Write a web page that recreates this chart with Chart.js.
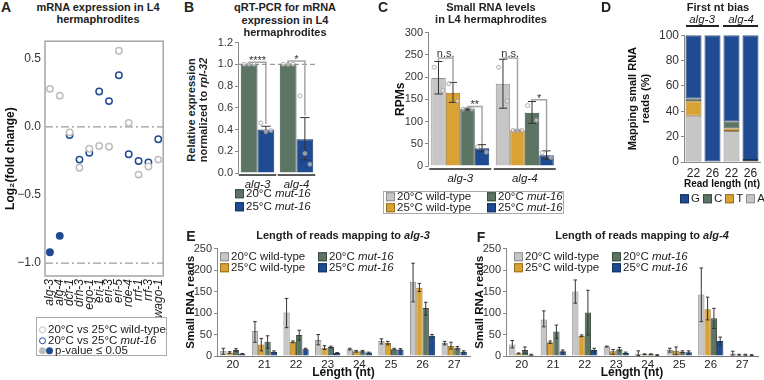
<!DOCTYPE html>
<html><head><meta charset="utf-8">
<script src="https://cdn.jsdelivr.net/npm/chart.js@4"></script>
<style>
body{margin:0;width:764px;height:380px;position:relative;background:#fff;font-family:"Liberation Sans",Arial,sans-serif;color:#222;overflow:hidden}
canvas{position:absolute;z-index:0}
.t{position:absolute;z-index:2;white-space:nowrap;transform:translate(-50%,-50%);font-size:11px;line-height:1}
.l{position:absolute;z-index:2;white-space:nowrap;font-size:11.5px;line-height:1;transform:translateY(-50%)}
.b{font-weight:bold}
.let{font-size:14px;font-weight:bold}
.sq{display:inline-block;width:9px;height:9px;border:1px solid;box-sizing:border-box;vertical-align:-1px;margin-right:2px}
.g1{background:#c6c6c6;border-color:#8e8e8e}.o1{background:#d9a235;border-color:#9a6f1c}
.gr{background:#5c7464;border-color:#3a4b40}.bl{background:#1f4b93;border-color:#13305e}
.box{position:absolute;z-index:1;border:1.5px solid #aaa;box-sizing:border-box}
.dot{display:inline-block;width:7px;height:7px;border-radius:50%;box-sizing:border-box;margin-right:2px;vertical-align:0}
.ul{position:absolute;height:1.5px;background:#222}
</style></head><body>

<div class="t let" style="left:6px;top:7px">A</div>
<div class="t b" style="left:98px;top:7px">mRNA expression in L4</div>
<div class="t b" style="left:98px;top:19px">hermaphrodites</div>
<div class="box" style="left:36px;top:317px;width:131px;height:39px"></div>
<div class="l" style="left:39px;top:330px"><span class="dot" style="border:1.5px solid #bdbdbd"></span>20°C vs 25°C wild-type</div>
<div class="l" style="left:39px;top:341px"><span class="dot" style="border:1.5px solid #1f4b93"></span>20°C vs 25°C <i>mut-16</i></div>
<div class="l" style="left:39px;top:351px"><span class="dot" style="background:#bdbdbd;margin-right:0"></span><span class="dot" style="background:#1f4b93"></span>p-value ≤ 0.05</div>

<div class="t let" style="left:189px;top:7px">B</div>
<div class="t b" style="left:285px;top:7px">qRT-PCR for mRNA</div>
<div class="t b" style="left:285px;top:20px">expression in L4</div>
<div class="t b" style="left:285px;top:32px">hermaphrodites</div>
<div class="t b" style="left:191px;top:110px;transform:translate(-50%,-50%) rotate(-90deg)">Relative expression</div>
<div class="t b" style="left:203px;top:110px;transform:translate(-50%,-50%) rotate(-90deg)">normalized to <i>rpl-32</i></div>
<div class="l" style="left:235px;top:194px"><span class="sq gr"></span>20°C <i>mut-16</i></div>
<div class="l" style="left:235px;top:207px"><span class="sq bl"></span>25°C <i>mut-16</i></div>

<div class="t let" style="left:383px;top:7px">C</div>
<div class="t b" style="left:491px;top:7px">Small RNA levels</div>
<div class="t b" style="left:491px;top:19px">in L4 hermaphrodites</div>
<div class="box" style="left:383px;top:191px;width:181px;height:23px"></div>
<div class="l" style="left:386px;top:197px"><span class="sq g1"></span>20°C wild-type</div>
<div class="l" style="left:386px;top:208px"><span class="sq o1"></span>25°C wild-type</div>
<div class="l" style="left:487px;top:197px"><span class="sq gr"></span>20°C <i>mut-16</i></div>
<div class="l" style="left:487px;top:208px"><span class="sq bl"></span>25°C <i>mut-16</i></div>

<div class="t let" style="left:606px;top:7px">D</div>
<div class="t b" style="left:718px;top:7px">First nt bias</div>
<div class="t" style="left:702px;top:20px;font-size:11.5px"><i>alg-3</i></div>
<div class="t" style="left:741px;top:20px;font-size:11.5px"><i>alg-4</i></div>
<div class="ul" style="left:686px;top:25px;width:33px"></div>
<div class="ul" style="left:723px;top:25px;width:35px"></div>
<div class="l" style="left:680px;top:199px"><span class="sq bl"></span>G<span class="sq gr" style="margin-left:3px"></span>C<span class="sq o1" style="margin-left:3px"></span>T<span class="sq g1" style="margin-left:3px"></span>A</div>

<div class="t let" style="left:191px;top:236px">E</div>
<div class="t b" style="left:343px;top:235px">Length of reads mapping to <i>alg-3</i></div>
<div class="l" style="left:220px;top:257px"><span class="sq g1"></span>20°C wild-type</div>
<div class="l" style="left:220px;top:268px"><span class="sq o1"></span>25°C wild-type</div>
<div class="l" style="left:318px;top:257px"><span class="sq gr"></span>20°C <i>mut-16</i></div>
<div class="l" style="left:318px;top:268px"><span class="sq bl"></span>25°C <i>mut-16</i></div>

<div class="t let" style="left:481px;top:237px">F</div>
<div class="t b" style="left:642px;top:235px">Length of reads mapping to <i>alg-4</i></div>
<div class="l" style="left:514px;top:257px"><span class="sq g1"></span>20°C wild-type</div>
<div class="l" style="left:514px;top:268px"><span class="sq o1"></span>25°C wild-type</div>
<div class="l" style="left:612px;top:257px"><span class="sq gr"></span>20°C <i>mut-16</i></div>
<div class="l" style="left:612px;top:268px"><span class="sq bl"></span>25°C <i>mut-16</i></div>

<script>
// ---- A: log2 fold change, 20°C vs 25°C ----
const genesA = ["alg-3", "alg-4", "dcr-1", "drh-3", "ego-1", "eri-1", "eri-3", "eri-5", "rde-4", "rrf-1", "rrf-3", "wago-1"];
const wtFC = [0.28, 0.23, -0.04, -0.30, -0.16, -0.14, -0.145, 0.56, 0.03, -0.35, -0.29, -0.24];
const mutFC = [-0.92, -0.80, -0.06, -0.24, -0.19, 0.26, 0.19, 0.38, -0.20, -0.25, -0.26, -0.09];
const mutSig = [true, true, false, false, false, false, false, false, false, false, false, false];
const ticksA = [-1, -0.5, 0, 0.5];

// ---- B: qRT-PCR ----
const genesB = ["alg-3", "alg-4"];
const qpcr20 = [1.0, 1.0];
const qpcr25 = [0.40, 0.31];
const qpcr25Lo = [0.37, 0.12];
const qpcr25Hi = [0.43, 0.51];
const qpcr20Dots = [[1, 1, 1], [1, 1, 1]];
const qpcr25Dots = [[0.46, 0.38, 0.39], [0.71, 0.18, 0.08]];
const sigB = [
  { g: 0, a: 0, b: 1, y: 1.02, ya: 1.0, yb: 0.45, text: "****" },
  { g: 1, a: 0, b: 1, y: 1.03, ya: 1.0, yb: 0.53, text: "*" },
];

// ---- C: small RNA RPMs ----
const rpmWt20 = [198, 185], rpmWt20Lo = [162, 130], rpmWt20Hi = [235, 240];
const rpmWt25 = [165, 80], rpmWt25Lo = [143, 79], rpmWt25Hi = [188, 81];
const rpmMut20 = [128, 120], rpmMut20Lo = [126, 96], rpmMut20Hi = [130, 145];
const rpmMut25 = [40, 24], rpmMut25Lo = [32, 15], rpmMut25Hi = [48, 34];
const rpmWt20Dots = [[222, 170], [222, 146]];
const rpmWt25Dots = [[185, 146], [80, 80, 80]];
const rpmMut20Dots = [[128, 128], [136, 103]];
const rpmMut25Dots = [[43, 31], [30, 19]];
const sigC = [
  { g: 0, a: 0, b: 1, y: 243, ya: 236, yb: 190, text: "n.s." },
  { g: 0, a: 2, b: 3, y: 134, ya: 131, yb: 50, text: "**" },
  { g: 1, a: 0, b: 1, y: 243, ya: 241, yb: 83, text: "n.s." },
  { g: 1, a: 2, b: 3, y: 149, ya: 146, yb: 36, text: "*" },
];

// ---- D: first nt bias (%) ----
const lenD = ["22", "26", "22", "26"];
const ntA = [36.5, 0, 24.5, 0];
const ntT = [11.5, 0, 2, 0];
const ntC = [2, 0, 5.5, 1.5];
const ntG = [50, 100, 68, 98.5];

// ---- E/F: read length distributions ----
const lengths = ["20", "21", "22", "23", "24", "25", "26", "27"];
const eWt20 = [12, 58, 101, 37, 16, 35, 173, 30];
const eWt20Lo = [4, 32, 66, 26, 14, 28, 126, 26], eWt20Hi = [18, 80, 134, 50, 18, 40, 216, 34];
const eWt25 = [8, 27, 33, 19, 11, 30, 159, 23];
const eWt25Lo = [6, 12, 31, 15, 9, 26, 150, 16], eWt25Hi = [10, 41, 35, 24, 13, 34, 169, 32];
const eMut20 = [14, 33, 49, 21, 11, 16, 112, 19];
const eMut20Lo = [11, 18, 37, 19, 9, 14, 95, 16], eMut20Hi = [17, 47, 60, 23, 13, 18, 125, 22];
const eMut25 = [5, 10, 16, 7, 8, 15, 47, 10];
const eMut25Lo = [4, 8, 14, 6, 6, 13, 44, 8], eMut25Hi = [6, 12, 18, 8, 9, 17, 50, 12];

const fWt20 = [27, 85, 150, 22, 5, 14, 143, 6];
const fWt20Lo = [19, 68, 123, 21, 1, 9, 80, 2], fWt20Hi = [36, 105, 177, 23, 12, 18, 205, 11];
const fWt25 = [6, 32, 47, 11, 4, 12, 109, 3];
const fWt25Lo = [5, 29, 45, 4, 3, 3, 84, 2], fWt25Hi = [7, 35, 49, 15, 5, 21, 137, 4];
const fMut20 = [14, 57, 101, 16, 4, 10, 88, 3];
const fMut20Lo = [6, 41, 49, 12, 3, 8, 64, 2], fMut20Hi = [21, 72, 153, 20, 5, 12, 111, 4];
const fMut25 = [3, 11, 14, 7, 2, 9, 35, 2];
const fMut25Lo = [2, 8, 9, 5, 1, 6, 26, 1], fMut25Hi = [4, 14, 18, 9, 3, 12, 44, 3];

const FONT = '"Liberation Sans", Arial, sans-serif';
const GRAY = ["#c6c6c6", "#8e8e8e"], ORA = ["#d9a235", "#9a6f1c"], GRN = ["#5c7464", "#3a4b40"], BLU = ["#1f4b93", "#13305e"];

Chart.defaults.font.family = FONT;
Chart.defaults.font.size = 11;
Chart.defaults.color = "#333";
Chart.defaults.animation = false;
Chart.defaults.plugins.legend.display = false;
Chart.defaults.plugins.tooltip.enabled = false;

// error bars, replicate dots, significance brackets, ref lines, frames
const extras = {
  id: "extras",
  beforeDatasetsDraw(chart, args, o) {
    const { ctx, chartArea: a } = chart, y = chart.scales.y;
    ctx.save();
    (o.hlines || []).forEach(h => {
      const py = y.getPixelForValue(h.v);
      ctx.strokeStyle = h.color; ctx.lineWidth = h.width || 1; ctx.setLineDash(h.dash || []);
      ctx.beginPath(); ctx.moveTo(a.left, py); ctx.lineTo(a.right, py); ctx.stroke();
    });
    ctx.restore();
  },
  afterDatasetsDraw(chart, args, o) {
    const { ctx, chartArea: a } = chart, y = chart.scales.y;
    ctx.save();
    chart.data.datasets.forEach((ds, i) => {
      chart.getDatasetMeta(i).data.forEach((el, j) => {
        const w = el.width || 0;
        if (ds.lo && ds.lo[j] != null) {
          const y1 = y.getPixelForValue(ds.lo[j]), y2 = y.getPixelForValue(ds.hi[j]), c = w * 0.28;
          ctx.strokeStyle = "#333"; ctx.lineWidth = 1;
          ctx.beginPath();
          ctx.moveTo(el.x, y1); ctx.lineTo(el.x, y2);
          ctx.moveTo(el.x - c, y1); ctx.lineTo(el.x + c, y1);
          ctx.moveTo(el.x - c, y2); ctx.lineTo(el.x + c, y2);
          ctx.stroke();
        }
        if (ds.dots && ds.dots[j]) {
          const d = ds.dots[j], n = d.length;
          d.forEach((v, k) => {
            const dx = n > 1 ? (k / (n - 1) - 0.5) * w * 0.6 : 0;
            ctx.beginPath();
            ctx.arc(el.x + dx, y.getPixelForValue(v), o.dotR || 2, 0, Math.PI * 2);
            ctx.fillStyle = "rgba(255,255,255,0.5)"; ctx.fill();
            ctx.strokeStyle = "#9a9a9a"; ctx.lineWidth = 0.8; ctx.stroke();
          });
        }
      });
    });
    (o.brackets || []).forEach(b => {
      const ea = chart.getDatasetMeta(b.a).data[b.g], eb = chart.getDatasetMeta(b.b).data[b.g];
      const py = y.getPixelForValue(b.y);
      ctx.strokeStyle = "#a5a5a5"; ctx.lineWidth = 1.5;
      ctx.beginPath();
      ctx.moveTo(ea.x, y.getPixelForValue(b.ya)); ctx.lineTo(ea.x, py);
      ctx.lineTo(eb.x, py); ctx.lineTo(eb.x, y.getPixelForValue(b.yb));
      ctx.stroke();
      ctx.fillStyle = "#333"; ctx.font = "11px " + FONT;
      ctx.textAlign = "center"; ctx.textBaseline = "alphabetic";
      ctx.fillText(b.text, (ea.x + eb.x) / 2, py + (b.text.includes("*") ? 2 : -1));
    });
    if (o.groupLine != null) {
      const n = chart.data.datasets.length;
      chart.data.labels.forEach((lab, j) => {
        const f = chart.getDatasetMeta(0).data[j], l = chart.getDatasetMeta(n - 1).data[j];
        ctx.strokeStyle = "#222"; ctx.lineWidth = 1.5;
        ctx.beginPath();
        ctx.moveTo(f.x - f.width / 2 - 2, a.bottom + o.groupLine);
        ctx.lineTo(l.x + l.width / 2 + 2, a.bottom + o.groupLine);
        ctx.stroke();
      });
    }
    if (o.frame) {
      ctx.strokeStyle = "#a5a5a5"; ctx.lineWidth = 1.5;
      ctx.strokeRect(a.left, a.top, a.right - a.left, a.bottom - a.top);
    }
    ctx.restore();
  },
};

// place a canvas at box {x,y,w,h} with its plot area at {l,t,r,b} (page px)
function make(box, area, config) {
  const cv = document.createElement("canvas");
  cv.width = box.w; cv.height = box.h;
  cv.style.left = box.x + "px"; cv.style.top = box.y + "px";
  document.body.appendChild(cv);
  const yW = area.l - box.x, xH = box.y + box.h - area.b;
  config.options.responsive = false;
  config.options.layout = { autoPadding: false, padding: { left: 0, top: area.t - box.y, right: box.x + box.w - area.r, bottom: 0 } };
  config.options.scales.x.afterFit = s => { s.height = xH; };
  config.options.scales.y.afterFit = s => { s.width = yW; };
  config.plugins = [extras];
  return new Chart(cv, config);
}

const yAxisStyle = {
  grid: { display: true, drawOnChartArea: false, drawTicks: true, tickLength: 3, color: "#8a8a8a" },
  border: { display: true, color: "#8a8a8a" },
};

function bar(label, data, col, extra) {
  return Object.assign({ label, data, backgroundColor: col[0], borderColor: col[1], borderWidth: 1 }, extra);
}

// A
make({ x: 0, y: 30, w: 176, h: 292 }, { l: 45, t: 37, r: 168, b: 276 }, {
  type: "line",
  data: {
    labels: genesA,
    datasets: [
      { label: "20°C vs 25°C wild-type", data: wtFC, showLine: false, pointRadius: 3.2, pointBorderWidth: 1.5,
        pointBorderColor: "#bdbdbd", pointBackgroundColor: "#fff" },
      { label: "20°C vs 25°C mut-16", data: mutFC, showLine: false, pointRadius: 3.2, pointBorderWidth: 1.5,
        pointBorderColor: "#1f4b93", pointBackgroundColor: mutSig.map(s => s ? "#1f4b93" : "#fff") },
    ],
  },
  options: {
    plugins: { extras: { frame: true, hlines: [
      { v: 0, color: "#9a9a9a", width: 1.3, dash: [8, 3, 2, 3] },
      { v: -1, color: "#9a9a9a", width: 1.3, dash: [8, 3, 2, 3] },
    ] } },
    scales: {
      x: { offset: true, grid: { display: false, drawTicks: false }, border: { display: false },
        ticks: { autoSkip: false, minRotation: 90, maxRotation: 90, padding: 3, font: { size: 12, style: "italic" }, color: "#222" } },
      y: { min: -1.095, max: 0.63, grid: { display: false, drawTicks: false }, border: { display: false },
        afterBuildTicks: s => { s.ticks = ticksA.map(v => ({ value: v })); },
        ticks: { padding: 4, font: { size: 12 }, callback: v => (v < 0 ? "\u2212" : "") + Math.abs(v).toFixed(1) },
        title: { display: true, text: "Log\u2082(fold change)", color: "#111", font: { size: 12, weight: "bold" }, padding: { top: 3, bottom: 0 } } },
    },
  },
});

// B
make({ x: 208, y: 34, w: 112, h: 160 }, { l: 238, t: 42, r: 316, b: 173 }, {
  type: "bar",
  data: {
    labels: genesB,
    datasets: [
      bar("20°C mut-16", qpcr20, GRN, { dots: qpcr20Dots }),
      bar("25°C mut-16", qpcr25, BLU, { lo: qpcr25Lo, hi: qpcr25Hi, dots: qpcr25Dots }),
    ],
  },
  options: {
    datasets: { bar: { categoryPercentage: 0.86, barPercentage: 1 } },
    plugins: { extras: { dotR: 2, groupLine: 2, brackets: sigB, hlines: [{ v: 1, color: "#9a9a9a", width: 1.2, dash: [5, 3] }] } },
    scales: {
      x: { grid: { display: false, drawTicks: false }, border: { display: false },
        ticks: { padding: 5, font: { size: 11.5, style: "italic" }, color: "#222" } },
      y: Object.assign({ min: 0, max: 1.2, ticks: { stepSize: 0.2, padding: 2, font: { size: 11 }, callback: v => v.toFixed(1) } }, yAxisStyle),
    },
  },
});

// C
make({ x: 390, y: 24, w: 172, h: 165 }, { l: 428, t: 32, r: 557, b: 166 }, {
  type: "bar",
  data: {
    labels: genesB,
    datasets: [
      bar("20°C wild-type", rpmWt20, GRAY, { lo: rpmWt20Lo, hi: rpmWt20Hi, dots: rpmWt20Dots }),
      bar("25°C wild-type", rpmWt25, ORA, { lo: rpmWt25Lo, hi: rpmWt25Hi, dots: rpmWt25Dots }),
      bar("20°C mut-16", rpmMut20, GRN, { lo: rpmMut20Lo, hi: rpmMut20Hi, dots: rpmMut20Dots }),
      bar("25°C mut-16", rpmMut25, BLU, { lo: rpmMut25Lo, hi: rpmMut25Hi, dots: rpmMut25Dots }),
    ],
  },
  options: {
    datasets: { bar: { categoryPercentage: 0.9, barPercentage: 1 } },
    plugins: { extras: { dotR: 2, groupLine: 3, brackets: sigC } },
    scales: {
      x: { grid: { display: false, drawTicks: false }, border: { display: false },
        ticks: { padding: 6, font: { size: 11.5, style: "italic" }, color: "#222" } },
      y: Object.assign({ min: 0, max: 300, ticks: { stepSize: 50, padding: 2, font: { size: 11 } },
        title: { display: true, text: "RPMs", color: "#111", font: { size: 12, weight: "bold" }, padding: { top: 3, bottom: 0 } } }, yAxisStyle),
    },
  },
});

// D
make({ x: 622, y: 26, w: 140, h: 168 }, { l: 684, t: 32, r: 760, b: 162 }, {
  type: "bar",
  data: {
    labels: lenD,
    datasets: [
      bar("A", ntA, GRAY), bar("T", ntT, ORA), bar("C", ntC, GRN), bar("G", ntG, BLU),
    ],
  },
  options: {
    datasets: { bar: { categoryPercentage: 1, barPercentage: 0.84, borderSkipped: false } },
    scales: {
      x: { stacked: true, grid: { display: false, drawTicks: false }, border: { display: true, color: "#8a8a8a" },
        ticks: { autoSkip: false, minRotation: 0, maxRotation: 0, padding: 4, font: { size: 12 }, color: "#222" },
        title: { display: true, text: "Read length (nt)", color: "#111", font: { size: 11.5, weight: "bold" }, padding: { top: 0, bottom: 3 } } },
      y: Object.assign({ stacked: true, min: 0, max: 100, ticks: { stepSize: 20, padding: 2, font: { size: 12 } },
        title: { display: true, text: ["Mapping small RNA", "reads (%)"], color: "#111", font: { size: 11, weight: "bold" }, padding: { top: 4, bottom: 0 } } }, yAxisStyle),
    },
  },
});

// E and F
function lengthChart(box, area, s) {
  make(box, area, {
    type: "bar",
    data: {
      labels: lengths,
      datasets: [
        bar("20°C wild-type", s[0], GRAY, { lo: s[1], hi: s[2] }),
        bar("25°C wild-type", s[3], ORA, { lo: s[4], hi: s[5] }),
        bar("20°C mut-16", s[6], GRN, { lo: s[7], hi: s[8] }),
        bar("25°C mut-16", s[9], BLU, { lo: s[10], hi: s[11] }),
      ],
    },
    options: {
      datasets: { bar: { categoryPercentage: 0.8, barPercentage: 1 } },
      scales: {
        x: { grid: { display: false, drawTicks: false }, border: { display: true, color: "#777" },
          ticks: { autoSkip: false, minRotation: 0, maxRotation: 0, padding: 2, font: { size: 11.5 }, color: "#222" },
          title: { display: true, text: "Length (nt)", color: "#111", font: { size: 12, weight: "bold" }, padding: { top: 0, bottom: 0 } } },
        y: Object.assign({ min: 0, max: 250, ticks: { stepSize: 50, padding: 2, font: { size: 11 } },
          title: { display: true, text: "Small RNA reads", color: "#111", font: { size: 11.5, weight: "bold" }, padding: { top: 0, bottom: 0 } } }, yAxisStyle),
      },
    },
  });
}
lengthChart({ x: 184, y: 240, w: 288, h: 140 }, { l: 217, t: 248, r: 470, b: 356 },
  [eWt20, eWt20Lo, eWt20Hi, eWt25, eWt25Lo, eWt25Hi, eMut20, eMut20Lo, eMut20Hi, eMut25, eMut25Lo, eMut25Hi]);
lengthChart({ x: 473, y: 240, w: 289, h: 140 }, { l: 506, t: 248, r: 758, b: 356 },
  [fWt20, fWt20Lo, fWt20Hi, fWt25, fWt25Lo, fWt25Hi, fMut20, fMut20Lo, fMut20Hi, fMut25, fMut25Lo, fMut25Hi]);
</script>
</body></html>
